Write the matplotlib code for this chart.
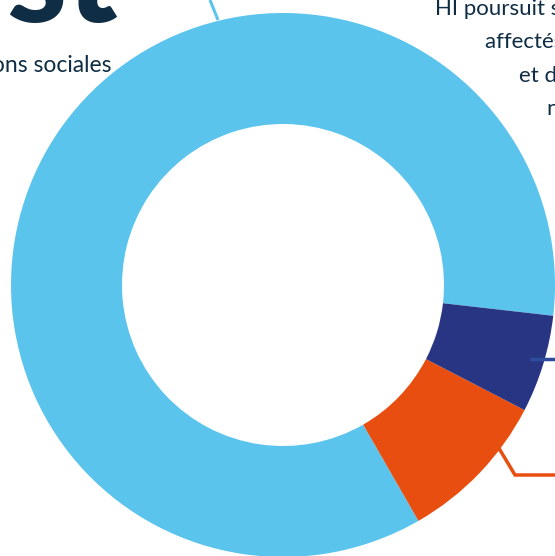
import matplotlib.pyplot as plt

# 데이터 (donut)
parts = ['Bleu clair', 'Orange', 'Bleu foncé']
values = [85.1, 9.1, 5.8]
colors = ['#5BC4ED', '#E84E0F', '#283583']

plt.rcParams['font.family'] = ['Lato', 'DejaVu Sans']
navy = '#0F2D44'

W, H = 555, 556
fig = plt.figure(figsize=(W / 100, H / 100), dpi=100)
ax = fig.add_axes([0, 0, 1, 1])

cx, cy = 283, H - 285
r_out, r_in = 272, 161

ax.pie(values, colors=colors, startangle=-6.5, counterclock=True,
       center=(cx, cy), radius=r_out, frame=True,
       wedgeprops=dict(width=r_out - r_in, linewidth=0))
ax.set_xlim(0, W)
ax.set_ylim(0, H)
ax.set_aspect('equal')
ax.axis('off')

# 리더 라인
ax.plot([210, 218], [H - 0, H - 20], color='#5BC4ED', lw=2.2, solid_capstyle='butt')
ax.plot([530, 556], [H - 359, H - 359], color='#2D4C9C', lw=2.5, solid_capstyle='butt')
ax.plot([500, 515, 556], [H - 450, H - 475, H - 475], color='#E84E0F', lw=2.5,
        solid_joinstyle='miter')

# 텍스트
ax.text(118, H - 22, 'st', fontsize=98, fontweight='black', color=navy,
        ha='right', va='baseline')
ax.text(111, H - 72, 'organisations sociales', fontsize=16.5, color=navy,
        ha='right', va='baseline')

lines = ['HI poursuit son action', 'affectés par la crise', 'et de leurs familles', 'nos équipes']
xs = [435, 485, 519, 547]
ys = [15, 48, 82, 115]
for t, x, y in zip(lines, xs, ys):
    ax.text(x, H - y, t, fontsize=16, color=navy, ha='left', va='baseline')

fig.savefig('out.png', dpi=100)
